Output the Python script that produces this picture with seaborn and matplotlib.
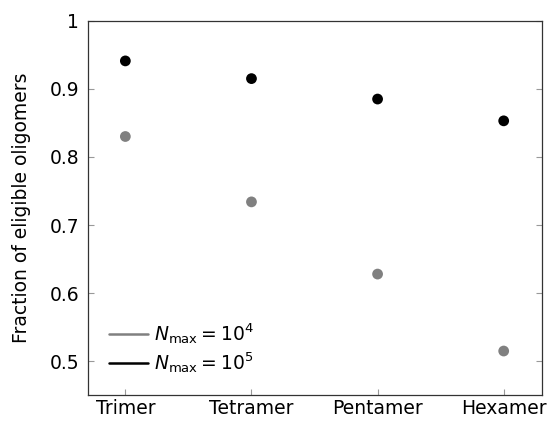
import matplotlib
matplotlib.use("Agg")
import matplotlib.pyplot as plt
from matplotlib.lines import Line2D
import seaborn as sns
import pandas as pd

categories = ["Trimer", "Tetramer", "Pentamer", "Hexamer"]
nmax_1e4 = [0.830, 0.734, 0.628, 0.515]
nmax_1e5 = [0.941, 0.915, 0.885, 0.853]
series_labels = [r"$N_{\mathrm{max}} = 10^4$", r"$N_{\mathrm{max}} = 10^5$"]
yticks = [0.5, 0.6, 0.7, 0.8, 0.9, 1.0]
ytick_labels = ["0.5", "0.6", "0.7", "0.8", "0.9", "1"]

sns.set_theme(style="white")
plt.rcParams["font.family"] = ["DejaVu Sans"]
plt.rcParams["mathtext.fontset"] = "dejavusans"
plt.rcParams["text.color"] = "black"
plt.rcParams["axes.labelcolor"] = "black"
plt.rcParams["xtick.color"] = "black"
plt.rcParams["ytick.color"] = "black"

df = pd.DataFrame({
    "x": list(range(len(categories))) * 2,
    "y": nmax_1e4 + nmax_1e5,
    "series": [series_labels[0]] * 4 + [series_labels[1]] * 4,
})
colors = {series_labels[0]: "#808080", series_labels[1]: "#000000"}

FS = 13.5
fig = plt.figure(figsize=(5.47, 4.23), dpi=100)
ax = fig.add_axes([0.160, 0.0655, 0.830, 0.8855])
sns.scatterplot(data=df, x="x", y="y", hue="series", palette=colors,
                s=60, edgecolor="none", legend=False, ax=ax)

ax.set_xlim(-0.3, 3.3)
ax.set_ylim(0.45, 1.0)
ax.set_xticks(range(len(categories)))
ax.set_xticklabels(categories, fontsize=FS)
ax.set_yticks(yticks)
ax.set_yticklabels(ytick_labels, fontsize=FS)
ax.set_xlabel("")
ax.set_ylabel("Fraction of eligible oligomers", fontsize=FS)
ax.yaxis.set_label_coords(-0.124, 0.5)
ax.tick_params(axis="both", direction="in", length=4, width=0.8,
               color="#999999", left=True, right=True, bottom=True)
ax.tick_params(axis="y", pad=6)
ax.tick_params(axis="x", pad=3)
for sp in ax.spines.values():
    sp.set_color("#333333")
    sp.set_linewidth(0.9)

handles = [Line2D([0], [0], color=colors[l], lw=1.8) for l in series_labels]
ax.legend(handles, series_labels, loc="lower left", frameon=False,
          fontsize=FS, handlelength=2.1, handletextpad=0.3,
          bbox_to_anchor=(0.01, 0.01), labelspacing=0.2)

fig.savefig("out.png", dpi=100)
